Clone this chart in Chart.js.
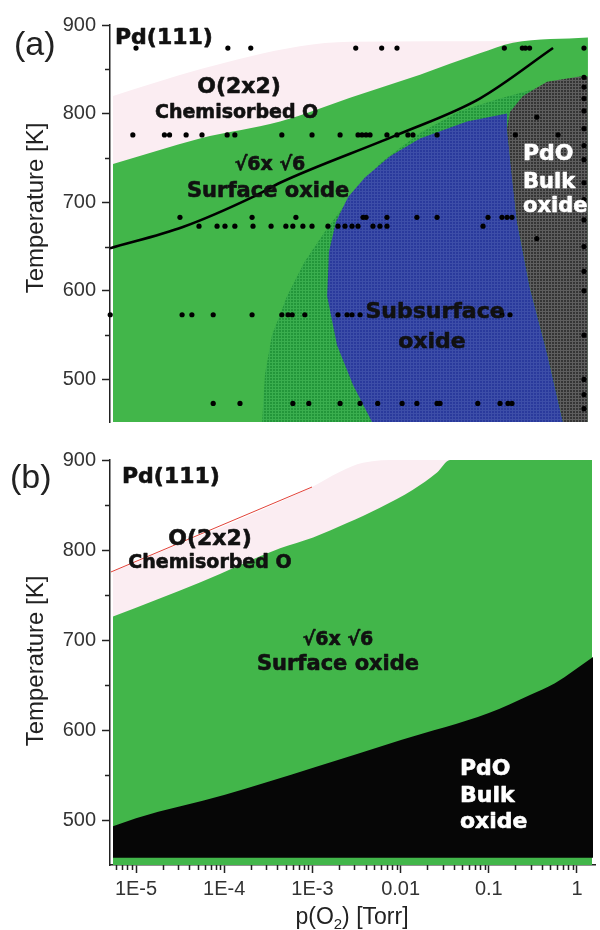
<!DOCTYPE html>
<html>
<head>
<meta charset="utf-8">
<script src="https://cdn.jsdelivr.net/npm/chart.js@4.4.1/dist/chart.umd.min.js"></script>
<style>
  body { margin: 0; background: #fff; }
  #wrap { position: relative; width: 600px; height: 930px; }
  canvas { position: absolute; left: 0; }
</style>
</head>
<body>
<div id="wrap">
  <canvas id="phaseA" width="600" height="440" style="top:0"></canvas>
  <canvas id="phaseB" width="600" height="490" style="top:440px"></canvas>
</div>
<script>
// pressures in Torr, temperatures in K

// ---- panel (a): boundaries ----
const pinkTopP_a = [5.48e-6, 5.3e-5, 7.2e-4, 2.67e-3, 0.188, 1.33];
const pinkTopT_a = [820, 850, 876, 881, 882, 884];
const greenTopP_a = [5.48e-6, 5.3e-5, 4.3e-4, 2.67e-3, 1.66e-2, 7.9e-2, 0.188, 1.33];
const greenTopT_a = [743, 772, 791, 818, 844, 868, 880, 886];
const hatchP = [2.69e-4, 2.9e-4, 3.48e-4, 5.15e-4, 8.2e-4, 1.39e-3, 2.22e-3, 5.83e-3, 1.66e-2, 4.71e-2, 0.134, 0.244, 0.494, 1.33, 1.33];
const hatchT = [452, 506, 550, 594, 633, 667, 694, 744, 778, 803, 817, 824, 833, 841, 452];
const subP = [0.161, 5.66e-2, 1.66e-2, 7.59e-3, 3.94e-3, 2.54e-3, 1.85e-3, 1.54e-3, 1.47e-3, 1.9e-3, 2.88e-3, 4.74e-3, 0.693, 0.457, 0.293, 0.209, 0.161];
const subT = [800, 791, 772, 752, 728, 706, 678, 644, 594, 539, 494, 452, 452, 530, 603, 678, 783];
const bulkP_a = [0.161, 0.174, 0.244, 0.457, 1.08, 1.33, 1.33, 0.693, 0.457, 0.293, 0.209, 0.183];
const bulkT_a = [783, 802, 820, 836, 842, 842, 452, 452, 530, 603, 678, 728];
const lineP = [5.07e-6, 3.4e-5, 2.12e-4, 4.3e-4, 9.1e-3, 7.9e-2, 0.535];
const lineT = [648, 672, 706, 722, 776, 817, 874];

// ---- panel (a): experiment points ----
const rowTemps = [874, 776, 683, 673, 573, 473];
const rowP = [
  [1e-5, 1.1e-4, 2e-4, 3.1e-3, 6.1e-3, 9.1e-3, 0.15, 0.24, 0.26, 0.29],
  [9.2e-6, 2.1e-5, 2.4e-5, 3.7e-5, 5.6e-5, 1.08e-4, 1.32e-4, 4.5e-4, 9.9e-4, 2.06e-3, 3.29e-3, 3.65e-3, 4.06e-3, 4.5e-3, 7.0e-3, 9.1e-3, 1.21e-2, 1.38e-2, 2.59e-2, 0.2, 0.61],
  [3.15e-5, 2.07e-4, 6.5e-4, 3.75e-3, 4.06e-3, 7.0e-3, 1.53e-2, 2.59e-2, 9.8e-2, 0.141, 0.161, 0.183],
  [5.18e-5, 8.3e-5, 1.02e-4, 1.32e-4, 2.12e-4, 3.4e-4, 5.0e-4, 6.0e-4, 7.8e-4, 9.9e-4, 1.5e-3, 1.95e-3, 2.34e-3, 2.81e-3, 3.29e-3, 4.86e-3, 5.83e-3, 7.0e-3, 8.6e-2],
  [5.1e-6, 3.33e-5, 4.3e-5, 7.5e-5, 2.07e-4, 4.5e-4, 5.3e-4, 5.9e-4, 8.2e-4, 1.95e-3, 2.47e-3, 2.81e-3, 3.47e-3, 0.141, 0.174],
  [7.5e-5, 1.51e-4, 6.0e-4, 9.1e-4, 2.06e-3, 3.47e-3, 5.5e-3, 1.04e-2, 1.53e-2, 2.59e-2, 2.8e-2, 7.5e-2, 0.134, 0.165, 0.183]
];
const edgeP = 1.2;
const edgeT = [874, 841, 830, 817, 803, 783, 764, 748, 722, 703, 680, 650, 622, 600, 550, 500, 483, 467];
const extraP = [0.35, 0.35];
const extraT = [796, 659];

// ---- panel (b): boundaries ----
const redP = [5.2e-6, 9.9e-4];
const redT = [775.6, 870];
const pinkTopP_b = [5.48e-6, 9.9e-4, 2.06e-3, 3.75e-3, 9.8e-3, 3.63e-2];
const pinkTopT_b = [776, 870, 887, 897, 900, 900];
const greenTopP_b = [5.48e-6, 5.3e-5, 4.3e-4, 1.02e-3, 2.47e-3, 5.83e-3, 1.38e-2, 2.59e-2, 3.63e-2, 1.48];
const greenTopT_b = [726, 764, 802, 814, 830, 847, 867, 886, 900, 900];
const bulkTopP_b = [5.48e-6, 1e-5, 1.02e-4, 1.02e-3, 1.01e-2, 0.1, 0.293, 0.562, 1.52];
const bulkTopT_b = [493, 502, 528, 558, 589, 619, 639, 652, 681];
const bulkBottomT_b = 458;

// ---- axes ----
const yMajorTicks = [500, 600, 700, 800, 900];
const yMinorTicks = [550, 650, 750, 850];
const xMajorTicks = [1e-5, 1e-4, 1e-3, 0.01, 0.1, 1];
const xTickLabels = ['1E-5', '1E-4', '1E-3', '0.01', '0.1', '1'];
const xMin = 5.07e-6, xMax = 1.6;

const xMinorTicks = [];
for (let e = -6; e <= 0; e++) {
  for (let m = 2; m <= 9; m++) {
    const v = m * Math.pow(10, e);
    if (v > xMin && v < xMax) xMinorTicks.push(v);
  }
}

const pts = (ps, ts) => ps.map((p, i) => ({ x: p, y: ts[i] }));

const PINK = '#fbedf2';
const GREEN = '#42b64a';
const AXIS = '#222';
const TICK_FONT = { family: 'Liberation Sans', size: 20 };

function meshPattern(ctx, base, line) {
  const c = document.createElement('canvas');
  c.width = 3; c.height = 3;
  const g = c.getContext('2d');
  g.fillStyle = base; g.fillRect(0, 0, 3, 3);
  g.fillStyle = line; g.fillRect(0, 2, 3, 1); g.fillRect(2, 0, 1, 3);
  return ctx.createPattern(c, 'repeat');
}

function region(data, color, fill, order, smooth) {
  return {
    data, fill, order,
    backgroundColor: color,
    borderColor: 'rgba(0,0,0,0)',
    borderWidth: 0,
    pointRadius: 0,
    cubicInterpolationMode: smooth ? 'monotone' : 'default'
  };
}

function yScale(min) {
  return {
    type: 'linear', min, max: 900,
    afterFit: s => { s.width = 110; },
    afterBuildTicks: s => { s.ticks = yMajorTicks.map(v => ({ value: v })); },
    border: { display: true, color: AXIS, width: 1.5 },
    grid: { drawOnChartArea: false, drawTicks: true, tickLength: 8, tickColor: AXIS, tickWidth: 1.5 },
    ticks: { color: '#333', font: TICK_FONT, padding: 6 }
  };
}

function xScale(show) {
  return {
    type: 'logarithmic', min: xMin, max: xMax, display: show,
    afterFit: s => { s.height = show ? 65 : 0; },
    afterBuildTicks: s => { s.ticks = xMajorTicks.map(v => ({ value: v })); },
    border: { display: true, color: AXIS, width: 1.5 },
    grid: { drawOnChartArea: false, drawTicks: true, tickLength: 8, tickColor: AXIS, tickWidth: 1.5 },
    ticks: { color: '#333', font: TICK_FONT, padding: 4, autoSkip: false, maxRotation: 0,
             callback: (v, i) => xTickLabels[i] }
  };
}

// minor tick marks, shorter than the major ones
const minorTicks = {
  id: 'minorTicks',
  afterDraw(chart) {
    const { ctx, scales: { x, y } } = chart;
    ctx.save();
    ctx.strokeStyle = AXIS;
    ctx.lineWidth = 1.5;
    ctx.beginPath();
    yMinorTicks.forEach(v => {
      const py = Math.round(y.getPixelForValue(v)) + 0.5;
      ctx.moveTo(y.right - 5, py); ctx.lineTo(y.right, py);
    });
    if (x.options.display) {
      xMinorTicks.forEach(v => {
        const px = Math.round(x.getPixelForValue(v)) + 0.5;
        ctx.moveTo(px, x.top); ctx.lineTo(px, x.top + 5);
      });
    }
    ctx.stroke();
    ctx.restore();
  }
};

// region names and axis titles
const phaseText = {
  id: 'phaseText',
  afterDraw(chart, args, opts) {
    const ctx = chart.ctx;
    (opts.items || []).forEach(it => {
      ctx.save();
      ctx.font = it.f;
      ctx.fillStyle = it.c || '#111';
      ctx.strokeStyle = it.c || '#111';
      ctx.lineWidth = 0.6;
      ctx.lineJoin = 'round';
      ctx.textAlign = it.a || 'left';
      ctx.textBaseline = 'alphabetic';
      let x = it.x, y = it.y;
      if (it.rot) {
        ctx.translate(it.x, it.y);
        ctx.rotate(-Math.PI / 2);
        x = 0; y = 0;
      }
      ctx.fillText(it.t, x, y);
      if (it.heavy) ctx.strokeText(it.t, x, y);
      ctx.restore();
    });
    if (opts.xTitle) {
      const { cx, y } = opts.xTitle;
      ctx.save();
      ctx.fillStyle = '#222';
      const big = '23px "Liberation Sans"', small = '15px "Liberation Sans"';
      ctx.font = big; const w1 = ctx.measureText('p(O').width, w3 = ctx.measureText(') [Torr]').width;
      ctx.font = small; const w2 = ctx.measureText('2').width;
      let x0 = cx - (w1 + w2 + w3) / 2;
      ctx.font = big; ctx.fillText('p(O', x0, y);
      ctx.font = small; ctx.fillText('2', x0 + w1, y + 5);
      ctx.font = big; ctx.fillText(') [Torr]', x0 + w1 + w2, y);
      ctx.restore();
    }
  }
};

const B = 'bold 22px "DejaVu Sans"', B21 = 'bold 21px "DejaVu Sans"', B19 = 'bold 19px "DejaVu Sans"';
const PANEL = '34px "Liberation Sans"', YT = '24px "Liberation Sans"';

// ---- panel (a) ----
const ctxA = document.getElementById('phaseA').getContext('2d');
const dotsA = [];
rowP.forEach((row, r) => row.forEach(p => dotsA.push({ x: p, y: rowTemps[r] })));
edgeT.forEach(t => dotsA.push({ x: edgeP, y: t }));
extraP.forEach((p, i) => dotsA.push({ x: p, y: extraT[i] }));

new Chart(ctxA, {
  type: 'line',
  data: {
    datasets: [
      region(pts(pinkTopP_a, pinkTopT_a), PINK, 'start', 10, true),
      region(pts(greenTopP_a, greenTopT_a), GREEN, 'start', 9, true),
      region(pts(hatchP, hatchT), meshPattern(ctxA, '#23963a', '#3aae4e'), 'shape', 8, false),
      region(pts(subP, subT), meshPattern(ctxA, '#2a3a9c', '#3d4ea8'), 'shape', 7, false),
      region(pts(bulkP_a, bulkT_a), meshPattern(ctxA, '#353535', '#5e5e5e'), 'shape', 6, false),
      {
        data: pts(lineP, lineT), order: 5, fill: false,
        borderColor: '#000', borderWidth: 2.6, pointRadius: 0,
        cubicInterpolationMode: 'monotone'
      },
      {
        data: dotsA, order: 1, showLine: false, clip: false,
        pointRadius: 2.6, pointBackgroundColor: '#000', pointBorderWidth: 0
      }
    ]
  },
  options: {
    responsive: false,
    animation: false,
    events: [],
    layout: { padding: { left: 0, right: 5, top: 25, bottom: 12 } },
    scales: { x: xScale(false), y: yScale(452) },
    plugins: {
      legend: { display: false },
      tooltip: { enabled: false },
      phaseText: {
        items: [
          { t: '(a)', x: 14, y: 55, f: PANEL, c: '#222' },
          { t: 'Pd(111)', x: 115, y: 44, f: B, heavy: true },
          { t: 'O(2x2)', x: 239, y: 93, f: B, a: 'center', heavy: true },
          { t: 'Chemisorbed O', x: 155, y: 118, f: B19, heavy: true },
          { t: '√6x √6', x: 270, y: 170, f: B19, a: 'center', heavy: true },
          { t: 'Surface oxide', x: 187, y: 197, f: B21, heavy: true },
          { t: 'Subsurface', x: 435, y: 318, f: B, a: 'center', heavy: true },
          { t: 'oxide', x: 432, y: 348, f: B, a: 'center', heavy: true },
          { t: 'PdO', x: 523, y: 160, f: B, c: '#fff', heavy: true },
          { t: 'Bulk', x: 523, y: 188, f: B21, c: '#fff', heavy: true },
          { t: 'oxide', x: 523, y: 212, f: B21, c: '#fff', heavy: true },
          { t: 'Temperature [K]', x: 43, y: 208, f: YT, c: '#222', a: 'center', rot: true }
        ]
      }
    }
  },
  plugins: [minorTicks, phaseText]
});

// ---- panel (b) ----
const ctxB = document.getElementById('phaseB').getContext('2d');
new Chart(ctxB, {
  type: 'line',
  data: {
    datasets: [
      region(pts(pinkTopP_b, pinkTopT_b), PINK, 'start', 10, true),
      region(pts(greenTopP_b, greenTopT_b), GREEN, 'start', 9, true),
      region(pts(bulkTopP_b, bulkTopT_b), '#060606', { value: bulkBottomT_b }, 8, true),
      {
        data: pts(redP, redT), order: 7, fill: false,
        borderColor: '#e2433a', borderWidth: 1, pointRadius: 0
      }
    ]
  },
  options: {
    responsive: false,
    animation: false,
    events: [],
    layout: { padding: { left: 0, right: 5, top: 20, bottom: 0 } },
    scales: { x: xScale(true), y: yScale(450) },
    plugins: {
      legend: { display: false },
      tooltip: { enabled: false },
      phaseText: {
        items: [
          { t: '(b)', x: 10, y: 48, f: PANEL, c: '#222' },
          { t: 'Pd(111)', x: 122, y: 43, f: B, heavy: true },
          { t: 'O(2x2)', x: 210, y: 105, f: B, a: 'center', heavy: true },
          { t: 'Chemisorbed O', x: 210, y: 128, f: B19, a: 'center', heavy: true },
          { t: '√6x √6', x: 338, y: 205, f: B19, a: 'center', heavy: true },
          { t: 'Surface oxide', x: 338, y: 230, f: B21, a: 'center', heavy: true },
          { t: 'PdO', x: 460, y: 335, f: B, c: '#fff', heavy: true },
          { t: 'Bulk', x: 460, y: 362, f: B, c: '#fff', heavy: true },
          { t: 'oxide', x: 460, y: 388, f: B, c: '#fff', heavy: true },
          { t: 'Temperature [K]', x: 43, y: 221, f: YT, c: '#222', a: 'center', rot: true }
        ],
        xTitle: { cx: 352, y: 484 }
      }
    }
  },
  plugins: [minorTicks, phaseText]
});
</script>
</body>
</html>
